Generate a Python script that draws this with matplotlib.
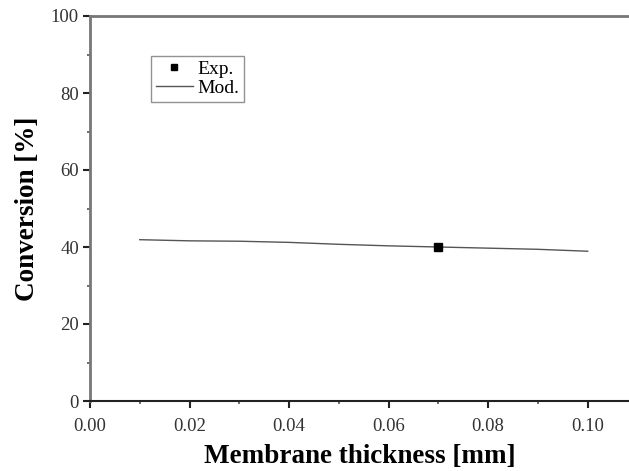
import matplotlib
matplotlib.use("Agg")
from matplotlib import pyplot as plt
from matplotlib.ticker import MultipleLocator

# model curve, conversion vs membrane thickness
thick_mod = [0.01, 0.02, 0.03, 0.04, 0.05, 0.06, 0.07, 0.08, 0.09, 0.10]
conv_mod = [41.9, 41.6, 41.5, 41.2, 40.7, 40.3, 40.0, 39.7, 39.4, 38.9]

# experimental point
thick_exp = [0.07]
conv_exp = [40.0]

plt.rcParams['font.family'] = ['Liberation Serif', 'DejaVu Serif']

fig = plt.figure(figsize=(6.29, 4.71), dpi=100)
ax = fig.add_axes([90/629, 70/471, 539/629, 385/471])

ax.plot(thick_mod, conv_mod, color="#555555", lw=1.0, label="Mod.")
ax.plot(thick_exp, conv_exp, ls="none", marker="s", ms=6, color="black", label="Exp.")

ax.set_xlim(0, 0.1083)
ax.set_ylim(0, 100)
ax.xaxis.set_major_locator(MultipleLocator(0.02))
ax.xaxis.set_minor_locator(MultipleLocator(0.01))
ax.yaxis.set_major_locator(MultipleLocator(20))
ax.yaxis.set_minor_locator(MultipleLocator(10))
ax.set_xticks([0, 0.02, 0.04, 0.06, 0.08, 0.10])
ax.set_xticklabels(["0.00", "0.02", "0.04", "0.06", "0.08", "0.10"])

ax.spines['right'].set_visible(False)
ax.spines['left'].set_color("#777777")
ax.spines['top'].set_color("#777777")
ax.spines['left'].set_linewidth(2)
ax.spines['top'].set_linewidth(2)
ax.spines['bottom'].set_linewidth(1.5)
ax.spines['bottom'].set_color("#222222")

ax.tick_params(which='major', direction='out', length=5, width=1.5, labelsize=13.5, pad=3, colors="#222222")
ax.tick_params(axis='x', which='major', pad=7)
ax.tick_params(which='minor', direction='out', length=2, width=1.2, colors="#555555")
ax.tick_params(axis='both', labelcolor="#333333")

ax.set_xlabel("Membrane thickness [mm]", fontsize=19.5, fontweight="bold", labelpad=7)
ax.set_ylabel("Conversion [%]", fontsize=19.5, fontweight="bold", labelpad=8)

handles, labels = ax.get_legend_handles_labels()
leg = ax.legend(handles[::-1], labels[::-1], loc="upper left", bbox_to_anchor=(0.113, 0.897),
                fontsize=14, frameon=True, fancybox=False, borderaxespad=0,
                handlelength=1.9, handletextpad=0.25, borderpad=0.25, labelspacing=0.05)
leg.get_frame().set_edgecolor("#777777")
leg.get_frame().set_linewidth(1.0)
leg.legend_handles[0].set_markersize(4.5)

fig.savefig("out.png", dpi=100)
